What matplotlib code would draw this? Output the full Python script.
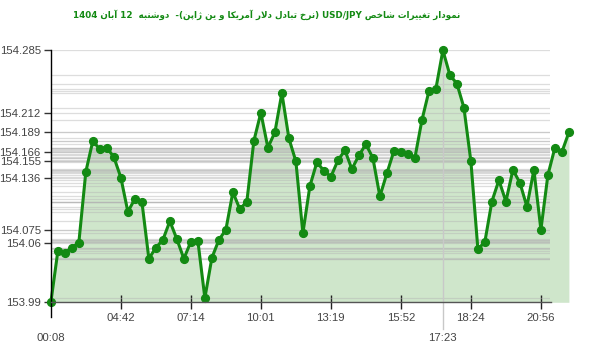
import matplotlib
matplotlib.use("Agg")
import matplotlib.pyplot as plt
import matplotlib.transforms as mtransforms
from matplotlib.lines import Line2D

# USD/JPY intraday values, one point per step
values = [
    153.990, 154.050, 154.048, 154.054, 154.060, 154.143, 154.179, 154.169, 154.171, 154.160,
    154.136, 154.096, 154.111, 154.108, 154.041, 154.054, 154.063, 154.085, 154.064, 154.041,
    154.061, 154.062, 153.995, 154.042, 154.063, 154.075, 154.119, 154.099, 154.108, 154.179,
    154.212, 154.171, 154.189, 154.235, 154.182, 154.155, 154.071, 154.126, 154.154, 154.144,
    154.137, 154.156, 154.168, 154.146, 154.162, 154.175, 154.159, 154.114, 154.141, 154.167,
    154.166, 154.164, 154.159, 154.203, 154.237, 154.240, 154.285, 154.256, 154.246, 154.218,
    154.155, 154.052, 154.061, 154.108, 154.133, 154.108, 154.145, 154.130, 154.102, 154.145,
    154.075, 154.139, 154.171, 154.166, 154.189,
]
tick_idx = [10, 20, 30, 40, 50, 60, 70]
tick_labels = ["04:42", "07:14", "10:01", "13:19", "15:52", "18:24", "20:56"]
low_idx = [0, 56]
low_labels = ["00:08", "17:23"]
ytick_vals = [153.99, 154.06, 154.075, 154.136, 154.155, 154.166, 154.189, 154.212, 154.285]

# --- minimal Persian shaping (DejaVu has presentation forms) ---
FORMS = {  # isolated, final, initial, medial (None -> doesn't join to next)
    "ا": ("\uFE8D", "\uFE8E", None, None),
    "آ": ("\uFE81", "\uFE82", None, None),
    "ب": ("\uFE8F", "\uFE90", "\uFE91", "\uFE92"),
    "ت": ("\uFE95", "\uFE96", "\uFE97", "\uFE98"),
    "خ": ("\uFEA5", "\uFEA6", "\uFEA7", "\uFEA8"),
    "د": ("\uFEA9", "\uFEAA", None, None),
    "ر": ("\uFEAD", "\uFEAE", None, None),
    "ژ": ("\uFB8A", "\uFB8B", None, None),
    "ش": ("\uFEB5", "\uFEB6", "\uFEB7", "\uFEB8"),
    "ص": ("\uFEB9", "\uFEBA", "\uFEBB", "\uFEBC"),
    "غ": ("\uFECD", "\uFECE", "\uFECF", "\uFED0"),
    "ل": ("\uFEDD", "\uFEDE", "\uFEDF", "\uFEE0"),
    "م": ("\uFEE1", "\uFEE2", "\uFEE3", "\uFEE4"),
    "ن": ("\uFEE5", "\uFEE6", "\uFEE7", "\uFEE8"),
    "ه": ("\uFEE9", "\uFEEA", "\uFEEB", "\uFEEC"),
    "و": ("\uFEED", "\uFEEE", None, None),
    "پ": ("\uFB56", "\uFB57", "\uFB58", "\uFB59"),
    "ک": ("\uFB8E", "\uFB8F", "\uFB90", "\uFB91"),
    "ی": ("\uFBFC", "\uFBFD", "\uFBFE", "\uFBFF"),
}


def shape(word):
    out = []
    i = 0
    n = len(word)
    while i < n:
        ch = word[i]
        prev_joins = i > 0 and FORMS[word[i - 1]][2] is not None
        if ch == "ل" and i + 1 < n and word[i + 1] == "ا":
            out.append("\uFEFC" if prev_joins else "\uFEFB")
            i += 2
            continue
        f = FORMS[ch]
        next_joins = i + 1 < n and f[2] is not None
        if prev_joins and next_joins:
            g = f[3]
        elif prev_joins:
            g = f[1]
        elif next_joins:
            g = f[2]
        else:
            g = f[0]
        out.append(g)
        i += 1
    return "".join(reversed(out))


title = ("1404 " + shape("آبان") + " 12  " + shape("دوشنبه") + "  -(" + shape("ژاپن") + " "
         + shape("ین") + " " + shape("و") + " " + shape("آمریکا") + " " + shape("دلار") + " "
         + shape("تبادل") + " " + shape("نرخ") + ") USD/JPY " + shape("شاخص") + " "
         + shape("تغییرات") + " " + shape("نمودار"))

green = "#138a13"
fill = "#cfe6cb"

fig = plt.figure(figsize=(6.0, 3.52), dpi=100)
ax = fig.add_axes([50.5 / 600, (352 - 302.3) / 352, (550 - 50.5) / 600, 252 / 352])
x = list(range(len(values)))

ax.set_xlim(-0.05, 71.3)
ax.set_ylim(153.99, 154.285)

ax.fill_between(x, values, 153.99, color=fill, lw=0, clip_on=False, zorder=1)
for v in values:
    ax.axhline(v, color="#b4b4b4", lw=0.9, alpha=0.45, zorder=2)
ax.plot(x, values, color=green, lw=2.2, marker="o", markersize=5.6,
        clip_on=False, zorder=4, solid_joinstyle="round")

# max marker line
ax.axvline(56, ymin=-0.105, ymax=1, color="#c8c8c8", lw=1, clip_on=False, zorder=3)

for s in ax.spines.values():
    s.set_visible(False)
ax.add_line(Line2D([0, 0], [-0.06, 1.0], transform=ax.transAxes, color="black",
                   lw=1, clip_on=False, zorder=5))
ax.add_line(Line2D([0, 1.003], [0, 0], transform=ax.transAxes, color="#555555",
                   lw=1, clip_on=False, zorder=5))

ax.set_yticks(ytick_vals)
ax.set_yticklabels(["%g" % v for v in ytick_vals])
ax.set_xticks(tick_idx)
ax.set_xticklabels(tick_labels)
ax.tick_params(axis="y", direction="out", length=5, width=1, color="#333333",
               labelsize=8.2, labelcolor="#444444", pad=2)
ax.tick_params(axis="x", direction="inout", length=10, width=1, color="#222222",
               labelsize=8.2, labelcolor="#444444", pad=3)
for lab in ax.get_xticklabels() + ax.get_yticklabels():
    lab.set_fontfamily("Liberation Sans")

trans = mtransforms.blended_transform_factory(ax.transData, ax.transAxes)
for i, lab in zip(low_idx, low_labels):
    ax.text(i, -0.12, lab, transform=trans, ha="center", va="top", fontsize=8.2,
            color="#444444", family="Liberation Sans")

fig.text(0.445, 0.958, title, ha="center", va="center", fontsize=6.3, fontweight="bold",
         color=green, family=["DejaVu Sans"])

fig.savefig("out.png", dpi=100)
